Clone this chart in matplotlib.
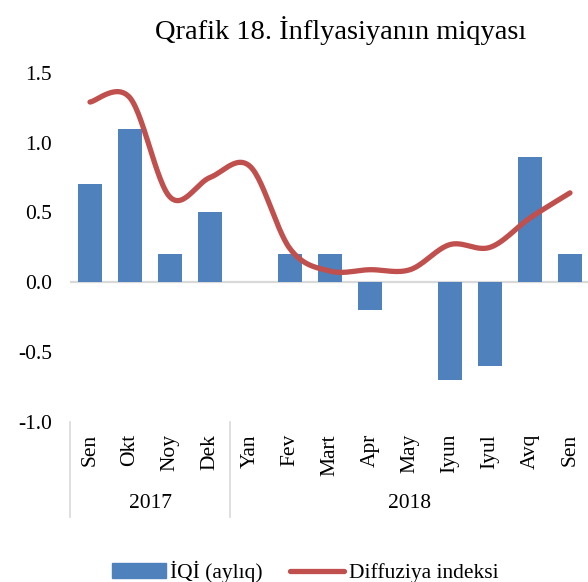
import numpy as np
import matplotlib
matplotlib.use("Agg")
import matplotlib.pyplot as plt
from matplotlib.lines import Line2D
from matplotlib.patches import Patch

plt.rcParams['font.family'] = ['Liberation Serif', 'DejaVu Serif']

months = ['Sen', 'Okt', 'Noy', 'Dek', 'Yan', 'Fev', 'Mart', 'Apr', 'May',
          'Iyun', 'Iyul', 'Avq', 'Sen']
years = ['2017', '2018']
year_counts = [4, 9]
iqi = [0.7, 1.1, 0.2, 0.5, 0.0, 0.2, 0.2, -0.2, 0.0, -0.7, -0.6, 0.9, 0.2]
diffuziya = [1.29, 1.32, 0.61, 0.75, 0.83, 0.24, 0.08, 0.09, 0.09, 0.27, 0.25, 0.46, 0.64]

BLUE = '#4F81BD'
RED = '#C0504D'
FS = 15.5


def smooth(xs, ys, n=30):
    # Excel-style smoothed line (Catmull-Rom as cubic Bezier)
    p = np.column_stack([xs, ys]).astype(float)
    p = np.vstack([p[0], p, p[-1]])
    out = []
    t = np.linspace(0, 1, n)[:, None]
    for i in range(1, len(p) - 2):
        p0, p3 = p[i], p[i + 1]
        c1 = p0 + (p[i + 1] - p[i - 1]) / 6
        c2 = p3 - (p[i + 2] - p[i]) / 6
        seg = ((1 - t) ** 3) * p0 + 3 * ((1 - t) ** 2) * t * c1 + 3 * (1 - t) * t ** 2 * c2 + t ** 3 * p3
        out.append(seg)
    out = np.vstack(out)
    return out[:, 0], out[:, 1]


W, H = 588, 582
fig = plt.figure(figsize=(W / 100, H / 100), dpi=100)
ax = fig.add_axes([70 / W, 1 - 422 / H, 520 / W, (422 - 72.7) / H])

x = np.arange(len(months))
ax.bar(x, iqi, width=0.6, color=BLUE, linewidth=0, zorder=2)
sx, sy = smooth(x, diffuziya)
ax.plot(sx, sy, color=RED, lw=3.8, solid_capstyle='round', zorder=3)
ax.axhline(0, color='#D9D9D9', lw=1.6, zorder=1)

ax.set_xlim(-0.5, len(months) - 0.5)
ax.set_ylim(-1.0, 1.5)
ax.set_yticks([-1.0, -0.5, 0.0, 0.5, 1.0, 1.5])
ax.set_yticklabels(['%.1f' % v for v in [-1.0, -0.5, 0.0, 0.5, 1.0, 1.5]], fontsize=FS)
ax.tick_params(axis='y', length=0, pad=13)
ax.set_xticks([])
for s in ax.spines.values():
    s.set_visible(False)

trans = ax.get_xaxis_transform()
px = 1 / (422 - 72.7)
for i, m in enumerate(months):
    ax.text(i, -12 * px, m, rotation=90, ha='center', va='top', fontsize=FS,
            transform=trans)

start = 0
bounds = [0]
for name, cnt in zip(years, year_counts):
    ax.text(start + cnt / 2 - 0.5, -81 * px, name, ha='center', va='center',
            fontsize=FS, transform=trans)
    start += cnt
    bounds.append(start)
for b in bounds[:-1]:
    ax.add_line(Line2D([b - 0.5, b - 0.5], [0, -95 * px], color='#D9D9D9', lw=1.2,
                       transform=trans, clip_on=False))

fig.text(341 / W, 1 - 31 / H, 'Qrafik 18. İnflyasiyanın miqyası', fontsize=20.5,
         ha='center', va='center')

handles = [Patch(facecolor=BLUE, edgecolor=BLUE, label='İQİ (aylıq)'),
           Line2D([], [], color=RED, lw=3.8, solid_capstyle='round', label='Diffuziya indeksi')]
fig.legend(handles=handles, loc='center', bbox_to_anchor=(305 / W, 1 - 572 / H), ncol=2,
           frameon=False, fontsize=FS, handlelength=2.5, handletextpad=0.2,
           columnspacing=1.3, borderpad=0.2)

fig.savefig('out.png', dpi=100)
